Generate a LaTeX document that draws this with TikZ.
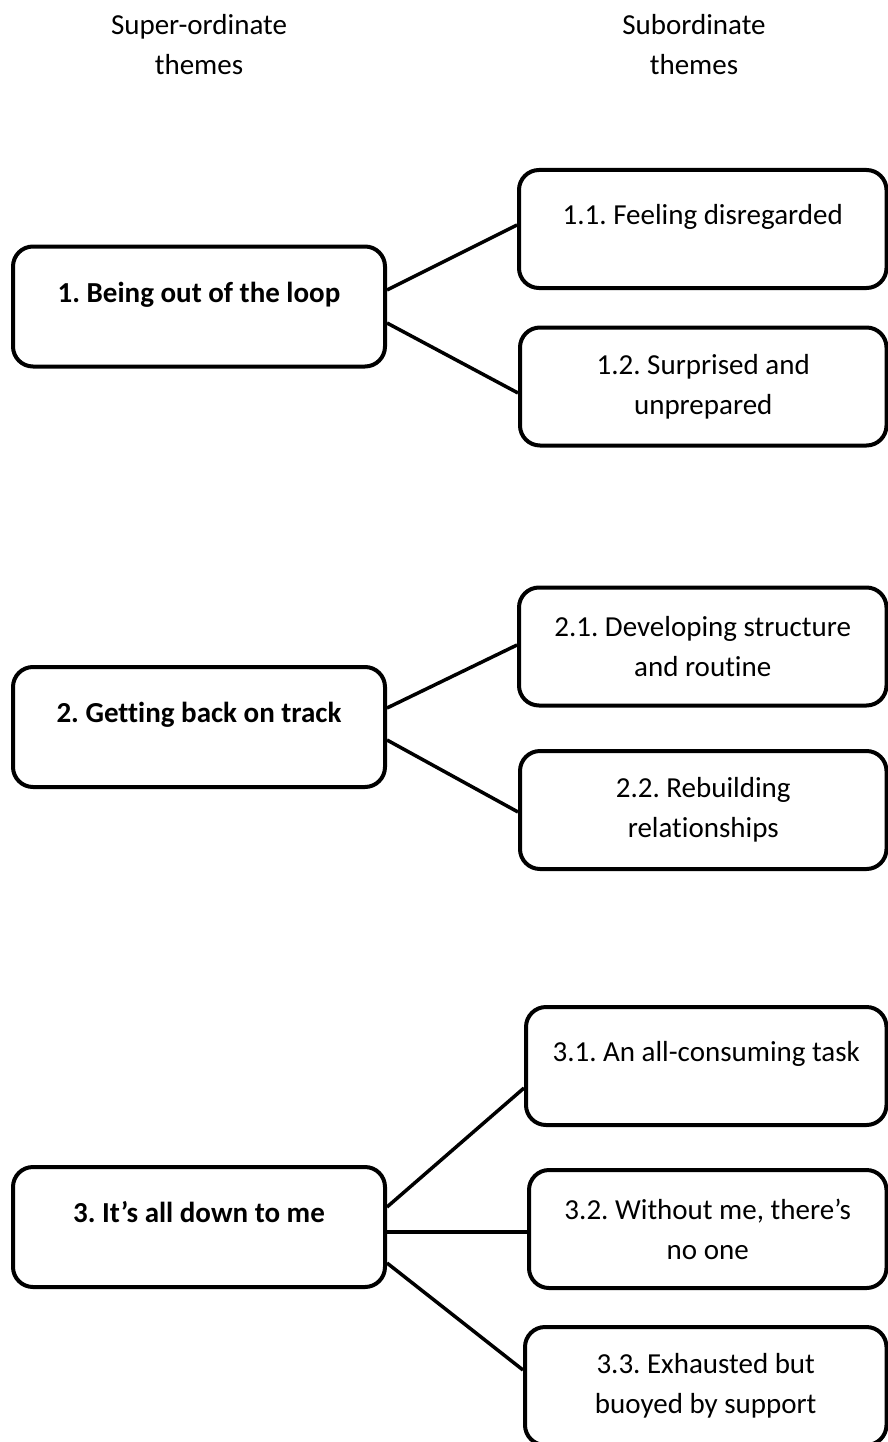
\documentclass[tikz,border=0pt]{standalone}
\usepackage{fontspec}
\setmainfont{Carlito}[Ligatures=NoCommon]
\frenchspacing

\begin{document}
\begin{tikzpicture}[x=1pt,y=-1pt,
  sup/.style={draw,line width=4pt,rounded corners=20pt,minimum width=372pt,minimum height=120pt,
    font=\fontsize{29}{40}\selectfont\bfseries,text height=22pt,text depth=31pt},
  sub/.style={draw,line width=4pt,rounded corners=20pt,minimum height=118pt,align=center,
    font=\fontsize{29}{40}\selectfont},
  oneline/.style={text height=22pt,text depth=32pt},
  head/.style={align=center,font=\fontsize{29}{40}\selectfont},
  link/.style={line width=3.5pt}]
  \useasboundingbox (0,0) rectangle (887,1442);
  \node[head] (hsup) at (199,45) {Super-ordinate\\themes};
  \node[head] (hsub) at (694,45) {Subordinate\\themes};
  \node[sup] (t1) at (199,306.5) {1. Being out of the loop};
  \node[sub,oneline,minimum width=367.5pt] (t11) at (702.75,229) {1.1. Feeling disregarded};
  \node[sub,minimum width=366.5pt] (t12) at (703.25,386.5) {1.2. Surprised and\\unprepared};
  \node[sup] (t2) at (199,727) {2. Getting back on track};
  \node[sub,minimum width=367.5pt] (t21) at (702.75,646.5) {2.1. Developing structure\\and routine};
  \node[sub,minimum width=366.5pt] (t22) at (703.25,810) {2.2. Rebuilding\\relationships};
  \node[sup] (t3) at (199,1227) {3. It’s all down to me};
  \node[sub,oneline,minimum width=360.5pt] (t31) at (706.25,1066) {3.1. An all-consuming task};
  \node[sub,minimum width=357.5pt] (t32) at (707.75,1229) {3.2. Without me, there’s\\no one};
  \node[sub,minimum width=361.5pt] (t33) at (705.75,1386) {3.3. Exhausted but\\buoyed by support};
  \draw[link] ([yshift=16.5pt]t1.east) -- ([yshift=4pt]t11.west);
  \draw[link] ([yshift=-16.5pt]t1.east) -- ([yshift=-6.5pt]t12.west);
  \draw[link] ([yshift=19pt]t2.east) -- ([yshift=1.5pt]t21.west);
  \draw[link] ([yshift=-13pt]t2.east) -- ([yshift=-2pt]t22.west);
  \draw[link] ([yshift=20pt]t3.east) -- ([yshift=-22pt]t31.west);
  \draw[link] ([yshift=-5pt]t3.east) -- ([yshift=-3pt]t32.west);
  \draw[link] ([yshift=-36pt]t3.east) -- ([yshift=16pt]t33.west);
\end{tikzpicture}
\end{document}
